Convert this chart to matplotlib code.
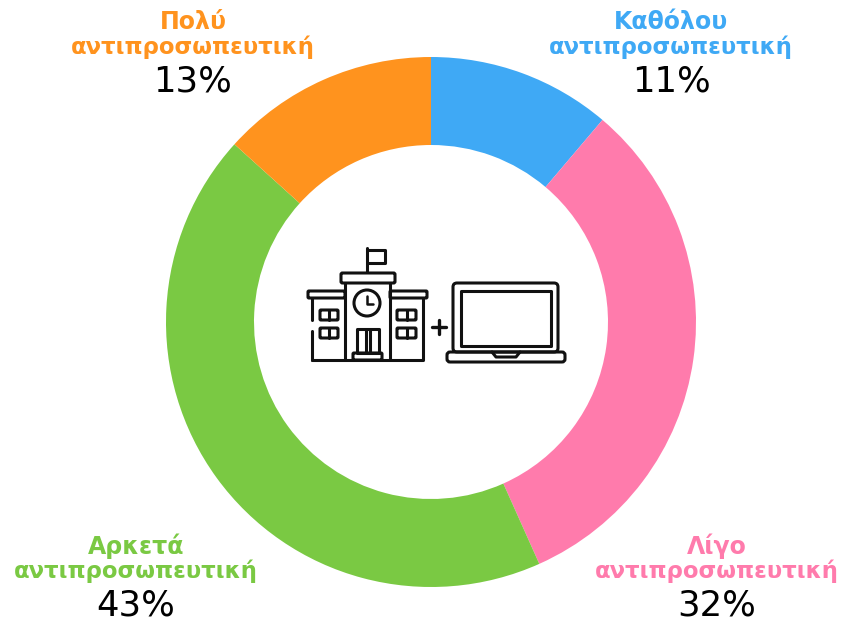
"""
Donut chart: school + laptop representativeness
"""
import matplotlib
matplotlib.use('Agg')
import matplotlib.pyplot as plt
from matplotlib.patches import Circle, FancyBboxPatch, Rectangle

labels = ['Καθόλου', 'Λίγο', 'Αρκετά', 'Πολύ']
second_line = 'αντιπροσωπευτική'
# slice sizes, labels show them rounded
values = [11.2, 32.1, 43.4, 13.3]
colors = ['#3FA9F5', '#FF7BAC', '#7AC943', '#FF931E']
label_x = [671, 717, 136, 193]
label_y = [22, 546, 546, 22]

W, H = 844, 620
CX, CY, R = 431, 322, 265
HOLE = 177
INK = '#111111'

fig = plt.figure(figsize=(W / 100, H / 100), dpi=100)

# pie axes placed in pixels, so radius 1 = R px
ax = fig.add_axes([(CX - R) / W, 1 - (CY + R) / H, 2 * R / W, 2 * R / H])
ax.pie(values, colors=colors, startangle=90, counterclock=False, radius=1,
       wedgeprops=dict(width=1 - HOLE / R, linewidth=0))
ax.set_xlim(-1, 1)
ax.set_ylim(-1, 1)
ax.set_aspect('equal')

# overlay in pixel coordinates for text and the icon
ov = fig.add_axes([0, 0, 1, 1])
ov.set_xlim(0, W)
ov.set_ylim(H, 0)
ov.axis('off')
ov.patch.set_alpha(0)

for name, val, col, x, y in zip(labels, values, colors, label_x, label_y):
    ov.text(x, y, name, color=col, fontsize=17, fontweight='bold',
            family='DejaVu Sans', ha='center', va='center')
    ov.text(x, y + 25, second_line, color=col, fontsize=16.4, fontweight='bold',
            family='DejaVu Sans', ha='center', va='center')
    # baseline anchor, the % sign sits right on the bottom of the figure
    ov.text(x, y + 70, f'{val:.0f}%', color='black', fontsize=25.5,
            family='DejaVu Sans', ha='center', va='baseline')


def box(x0, y0, x1, y1, lw=2.2, round_=0, fc='none'):
    if round_:
        p = FancyBboxPatch((x0, y0), x1 - x0, y1 - y0,
                           boxstyle=f'round,pad=0,rounding_size={round_}',
                           fc=fc, ec=INK, lw=lw)
    else:
        p = Rectangle((x0, y0), x1 - x0, y1 - y0, fc=fc, ec=INK, lw=lw,
                      joinstyle='round')
    ov.add_patch(p)


def line(xs, ys, lw=2.2):
    ov.plot(xs, ys, color=INK, lw=lw, solid_capstyle='round',
            solid_joinstyle='round')


# school
line([367, 367], [248, 272])
line([367, 385, 385, 367], [250, 250, 263, 263])
box(341, 273, 395, 283, round_=1.5)
line([345, 345], [283, 360])
line([390, 390], [283, 360])
box(308, 291, 345, 298, round_=1)
box(390, 291, 427, 298, round_=1)
line([312, 312], [298, 320])
line([312, 312], [331, 360])
line([312, 423, 423], [360, 360, 298])
ov.add_patch(Circle((367, 303), 13, fc='none', ec=INK, lw=2.2))
line([367, 367, 373], [296, 304, 304], lw=1.8)
for x0, x1 in [(320, 338), (397, 416)]:
    for y0, y1 in [(310, 320), (328, 338)]:
        box(x0, y0, x1, y1, round_=1)
        line([(x0 + x1) / 2] * 2, [y0, y1])
box(357, 329, 379, 353)
line([366, 366], [329, 353])
line([370, 370], [329, 353])
box(353, 353, 382, 360, round_=1)

# plus sign
line([439, 439], [320, 334], lw=2.4)
line([432, 446], [327, 327], lw=2.4)

# laptop
box(453, 283, 558, 352, round_=4)
box(461, 291, 551, 346)
box(447, 352, 565, 362, round_=3)
line([492, 496, 516, 520], [352, 357, 357, 352])

fig.savefig('out.png', dpi=100)
